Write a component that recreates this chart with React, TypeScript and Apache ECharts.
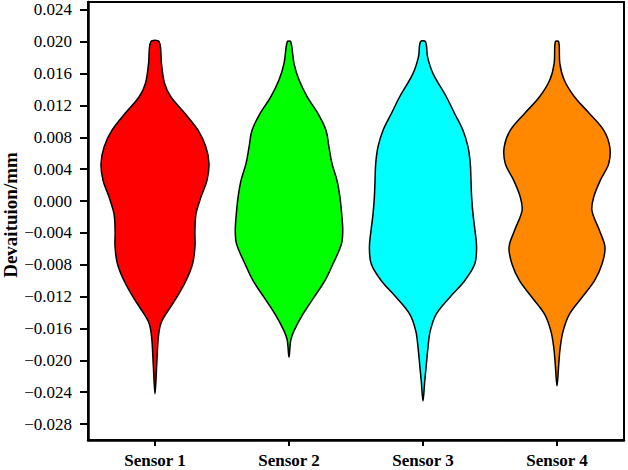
import React, { useEffect, useRef } from "react";
import * as echarts from "echarts";

const categories = ["Sensor 1", "Sensor 2", "Sensor 3", "Sensor 4"];
const colors = ["#FF0000", "#00FF00", "#00FFFF", "#FF8800"];
const yTitle = "Devaituion/mm";

// violin outlines: y value and half-width (in x-axis units)
const sensor1Y = [0.02, 0.0173, 0.0148, 0.0131, 0.011, 0.0089, 0.0068, 0.0047, 0.0026, 0.0005, -0.0016, -0.0037, -0.0058, -0.0079, -0.01, -0.0121, -0.0142, -0.0154, -0.0171, -0.0205, -0.0242];
const sensor1W = [0.031, 0.048, 0.071, 0.118, 0.224, 0.321, 0.38, 0.403, 0.388, 0.343, 0.306, 0.298, 0.298, 0.28, 0.231, 0.162, 0.081, 0.043, 0.025, 0.013, 0];

const sensor2Y = [0.02, 0.0173, 0.0152, 0.0131, 0.011, 0.0089, 0.0068, 0.0047, 0.0026, 0.0005, -0.0016, -0.0037, -0.0054, -0.0079, -0.01, -0.0121, -0.0142, -0.0163, -0.0175, -0.0196];
const sensor2W = [0.013, 0.037, 0.075, 0.136, 0.216, 0.276, 0.298, 0.321, 0.358, 0.38, 0.393, 0.401, 0.391, 0.328, 0.268, 0.186, 0.104, 0.037, 0.013, 0];

const sensor3Y = [0.02, 0.0181, 0.016, 0.0131, 0.011, 0.0089, 0.0068, 0.0047, 0.0026, 0.0005, -0.0016, -0.0037, -0.0058, -0.0079, -0.01, -0.0121, -0.0142, -0.0163, -0.0184, -0.0205, -0.0226, -0.0251];
const sensor3W = [0.019, 0.034, 0.075, 0.174, 0.236, 0.298, 0.336, 0.353, 0.358, 0.363, 0.373, 0.388, 0.4, 0.386, 0.311, 0.199, 0.099, 0.054, 0.037, 0.025, 0.013, 0];

const sensor4Y = [0.02, 0.0173, 0.0152, 0.0131, 0.011, 0.0089, 0.0068, 0.0047, 0.0026, 0.0005, -0.0012, -0.0037, -0.0058, -0.0079, -0.01, -0.0121, -0.0142, -0.0163, -0.0184, -0.0205, -0.0232];
const sensor4W = [0.013, 0.021, 0.054, 0.13, 0.242, 0.348, 0.394, 0.386, 0.323, 0.274, 0.261, 0.317, 0.358, 0.336, 0.28, 0.186, 0.093, 0.046, 0.024, 0.013, 0];

const yTicks = [-0.028, -0.024, -0.02, -0.016, -0.012, -0.008, -0.004, 0, 0.004, 0.008, 0.012, 0.016, 0.02, 0.024];
const xTicks = [1, 2, 3, 4];

const violinY = [sensor1Y, sensor2Y, sensor3Y, sensor4Y];
const violinW = [sensor1W, sensor2W, sensor3W, sensor4W];

const FONT = "'Liberation Serif', 'Times New Roman', serif";

export default function App() {
  const ref = useRef<HTMLDivElement>(null);
  useEffect(() => {
    if (!ref.current) return;
    const chart = echarts.init(ref.current, undefined, { renderer: "svg" });
    const option: any = {
      animation: false,
      grid: {
        left: 88,
        top: 2,
        right: 4,
        bottom: 30,
        containLabel: false,
        outerBoundsMode: "none",
        show: true,
        borderColor: "#000",
        borderWidth: 2,
        backgroundColor: "transparent",
      },
      graphic: [
        {
          type: "text",
          x: 10,
          y: 215,
          rotation: Math.PI / 2,
          style: {
            text: yTitle,
            fill: "#000",
            font: `bold 19px ${FONT}`,
            align: "center",
            verticalAlign: "middle",
          },
        },
      ],
      xAxis: {
        type: "value",
        min: 0.5,
        max: 4.5,
        splitLine: { show: false },
        axisLine: { show: true, onZero: false, lineStyle: { color: "#000", width: 2.5 } },
        axisTick: { show: true, customValues: xTicks, length: 6, lineStyle: { color: "#000", width: 2 } },
        axisLabel: {
          customValues: xTicks,
          margin: 12,
          color: "#000",
          fontFamily: FONT,
          fontWeight: "bold",
          fontSize: 17,
          formatter: (v: number) => categories[Math.round(v) - 1] ?? "",
        },
      },
      yAxis: {
        type: "value",
        min: -0.03,
        max: 0.025,
        splitLine: { show: false },
        axisLine: { show: true, onZero: false, lineStyle: { color: "#000", width: 2.5 } },
        axisTick: { show: true, customValues: yTicks, length: 8, lineStyle: { color: "#000", width: 2 } },
        axisLabel: {
          customValues: yTicks,
          margin: 16,
          color: "#000",
          fontFamily: FONT,
          fontSize: 17,
          formatter: (v: number) => v.toFixed(3).replace("-", "\u2212"),
        },
      },
      series: [
        {
          type: "custom",
          clip: false,
          data: xTicks.map((x) => [x, 0]),
          renderItem: (params: any, api: any) => {
            const i = params.dataIndex;
            const xc = api.value(0);
            const ys = violinY[i];
            const ws = violinW[i];
            const pts: number[][] = [];
            for (let k = 0; k < ys.length; k++) {
              pts.push(api.coord([xc + ws[k], ys[k]]));
            }
            for (let k = ys.length - 1; k >= 0; k--) {
              if (ws[k] === 0) continue;
              pts.push(api.coord([xc - ws[k], ys[k]]));
            }
            return {
              type: "polygon",
              shape: { points: pts, smooth: 0.35 },
              style: { fill: colors[i], stroke: "#000", lineWidth: 1.5 },
            };
          },
        },
      ],
    };
    chart.setOption(option);
    return () => chart.dispose();
  }, []);
  return (
    <div
      ref={ref}
      style={{ position: "fixed", left: 0, top: 0, width: 628, height: 470, background: "#fff" }}
    />
  );
}
